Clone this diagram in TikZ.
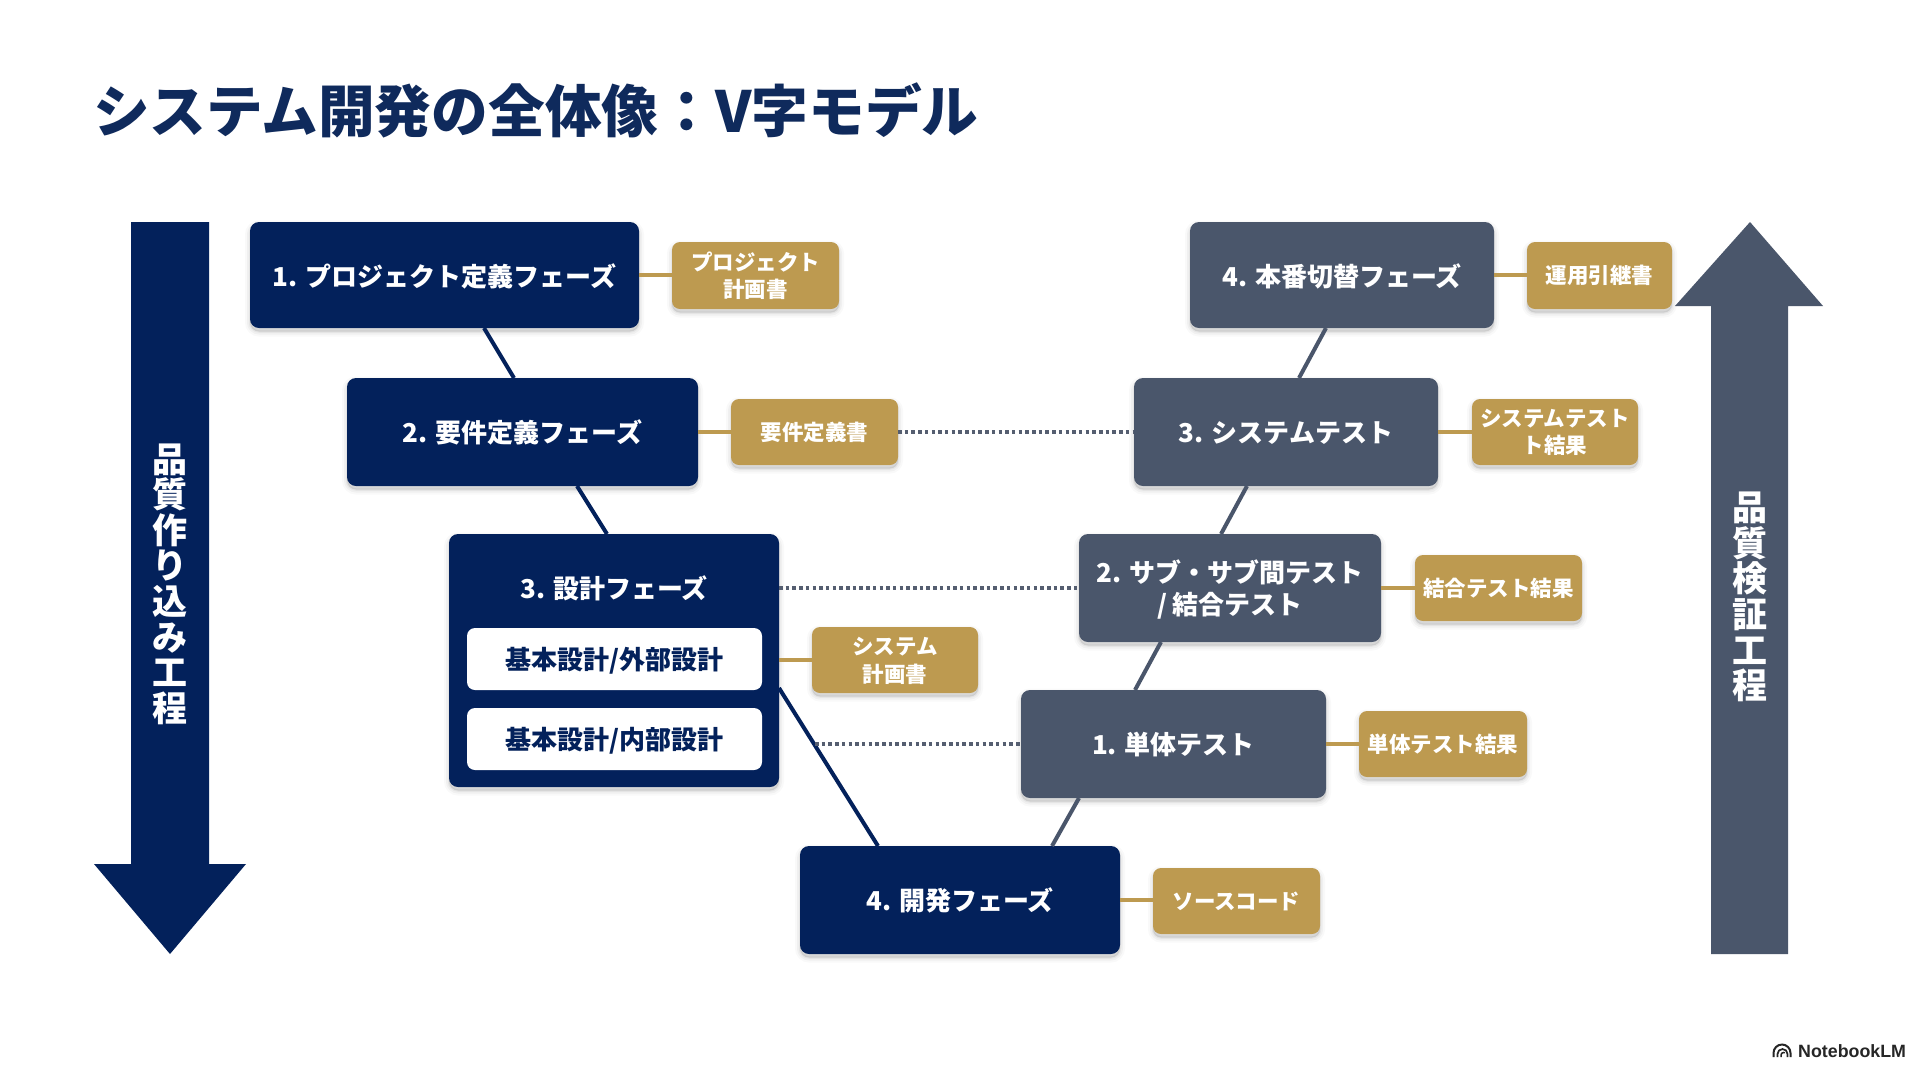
\documentclass[tikz,border=0pt]{standalone}
\usepackage{fontspec}
\setmainfont{Noto Sans CJK JP}
\newfontfamily\logofont{Liberation Sans}
\usetikzlibrary{calc}
\definecolor{navy}{HTML}{03215B}
\definecolor{slate}{HTML}{4A566B}
\definecolor{gold}{HTML}{BD9A50}
\definecolor{titlenavy}{HTML}{0F2A5C}
\definecolor{dotgrey}{HTML}{555E70}
\newcommand{\dn}[2][1pt]{\raisebox{-#1}[\height][\depth]{#2}}
\tikzset{
  softshadow/.style={
    preaction={draw=black,fill=black,opacity=.025,line width=10pt,transform canvas={yshift=-3.5pt}},
    preaction={draw=black,fill=black,opacity=.035,line width=6pt,transform canvas={yshift=-3.5pt}},
    preaction={draw=black,fill=black,opacity=.045,line width=2.5pt,transform canvas={yshift=-3.5pt}}},
  wh/.style 2 args={minimum width=#1pt,minimum height=#2pt,inner sep=0pt,outer sep=0pt,align=center},
  phase/.style={rounded corners=9pt,softshadow,fill=navy,text=white,font=\bfseries\fontsize{26}{32}\selectfont},
  testbox/.style={phase,fill=slate},
  inner/.style={rounded corners=8pt,fill=white,text=navy,font=\bfseries\fontsize{26}{32}\selectfont},
  doc/.style={rounded corners=8pt,softshadow,fill=gold,text=white,font=\bfseries\fontsize{21.5}{28}\selectfont},
  navyline/.style={draw=navy,line width=4pt},
  slateline/.style={draw=slate,line width=4pt},
  stub/.style={draw=gold,line width=4pt},
  dots/.style={draw=dotgrey,line width=3.5pt,dash pattern=on 3.5pt off 3.2pt},
  sidelabel/.style={text=white,align=center,inner sep=0pt,font=\bfseries\fontsize{35}{35.6}\selectfont},
}
\begin{document}
\begin{tikzpicture}[x=1pt,y=-1pt]
\useasboundingbox[fill=white] (0,0) rectangle (1920,1072);

% title
\node[anchor=west,inner sep=0pt,text=titlenavy,font=\bfseries\fontsize{56.7}{60}\selectfont] (title) at (93,110.5) {システム開発の全体像：V字モデル};

% side arrows
\fill[navy] (131,222) -- (209,222) -- (209,864) -- (246,864) -- (170,954) -- (94,864) -- (131,864) -- cycle;
\fill[slate] (1711,954) -- (1788,954) -- (1788,306) -- (1823,306) -- (1750,222) -- (1675,306) -- (1711,306) -- cycle;
\node[sidelabel] (lefttext) at (170,584) {品\\質\\作\\り\\込\\み\\工\\程};
\node[sidelabel] (righttext) at (1750,597) {品\\質\\検\\証\\工\\程};

% free end of the lower dotted link
\coordinate (dotstart) at (815,744);

% phases
\node[phase,wh={389}{106}] (p1) at (444.5,275) {\dn{1. プロジェクト定義フェーズ}};
\node[phase,wh={351}{108}] (p2) at (522.5,432) {2. 要件定義フェーズ};
\node[phase,wh={330}{253}] (p3) at (614,660.5) {};
\node[phase,wh={320}{108}] (p4) at (960,900) {4. 開発フェーズ};
\node[text=white,inner sep=0pt,font=\bfseries\fontsize{26}{32}\selectfont] (p3t) at (614,588) {3. 設計フェーズ};
\node[inner,wh={295}{62}] (w1) at (614.5,659) {\dn[1.5pt]{基本設計/外部設計}};
\node[inner,wh={295}{62}] (w2) at (614.5,739) {\dn[2pt]{基本設計/内部設計}};

% tests
\node[testbox,wh={305}{108}] (t1) at (1173.5,744) {\dn{1. 単体テスト}};
\node[testbox,wh={302}{108}] (t2) at (1230,588) {\dn{2. サブ・サブ間テスト}\\\dn{/ 結合テスト}};
\node[testbox,wh={304}{108}] (t3) at (1286,432) {\dn{3. システムテスト}};
\node[testbox,wh={304}{106}] (t4) at (1342,275) {\dn{4. 本番切替フェーズ}};

% documents
\node[doc,wh={167}{67}] (g1) at (755.5,275.5) {\dn{プロジェクト}\\計画書};
\node[doc,wh={167}{66}] (g2) at (814.5,432) {要件定義書};
\node[doc,wh={166}{66}] (g3) at (895,660) {\dn{システム}\\\dn{計画書}};
\node[doc,wh={167}{66}] (g4) at (1236.5,901) {ソースコード};
\node[doc,wh={168}{66}] (h1) at (1443,744) {単体テスト結果};
\node[doc,wh={167}{66}] (h2) at (1498.5,588) {結合テスト結果};
\node[doc,wh={166}{66}] (h3) at (1555,432) {\dn{システムテスト}\\ト結果};
\node[doc,wh={145}{67}] (h4) at (1599.5,275.5) {運用引継書};

% V connectors
\draw[navyline] ([xshift=39.5pt]p1.south) -- ([xshift=-8.5pt]p2.north);
\draw[navyline] ([xshift=54.5pt]p2.south) -- ([xshift=-7pt]p3.north);
\draw[navyline] ([yshift=-27.5pt]p3.east) -- ([xshift=-82pt]p4.north);
\draw[slateline] ([xshift=92pt]p4.north) -- ([xshift=-94.5pt]t1.south);
\draw[slateline] ([xshift=-38.5pt]t1.north) -- ([xshift=-69pt]t2.south);
\draw[slateline] ([xshift=-9pt]t2.north) -- ([xshift=-39pt]t3.south);
\draw[slateline] ([xshift=13pt]t3.north) -- ([xshift=-16pt]t4.south);

% stubs
\draw[stub] (p1.east) -- (p1.east -| g1.west);
\draw[stub] (p2.east) -- (g2.west);
\draw[stub] (g3.west -| p3.east) -- (g3.west);
\draw[stub] (p4.east) -- (p4.east -| g4.west);
\draw[stub] (t1.east) -- (h1.west);
\draw[stub] (t2.east) -- (h2.west);
\draw[stub] (t3.east) -- (h3.west);
\draw[stub] (t4.east) -- (t4.east -| h4.west);

% dotted links
\draw[dots] (g2.east) -- (t3.west);
\draw[dots] (t2.west -| p3.east) -- (t2.west);
\draw[dots] (dotstart) -- (t1.west);

% logo
\node[anchor=west,inner sep=0pt,text=black!85,font=\logofont\bfseries\fontsize{17.8}{20}\selectfont] (logo) at (1798,1051) {NotebookLM};
\draw[black!85,line width=2pt] (1773.5,1057) -- (1773.5,1053) arc[start angle=180,end angle=0,radius=8.5pt] -- (1790.5,1057);
\draw[black!85,line width=1.7pt] (1777.5,1057) -- (1777.5,1054) arc[start angle=180,end angle=0,radius=5pt] -- (1787.5,1057);
\draw[black!85,line width=1.5pt] (1781,1057) -- (1781,1055) arc[start angle=180,end angle=60,radius=2.5pt];
\end{tikzpicture}
\end{document}
